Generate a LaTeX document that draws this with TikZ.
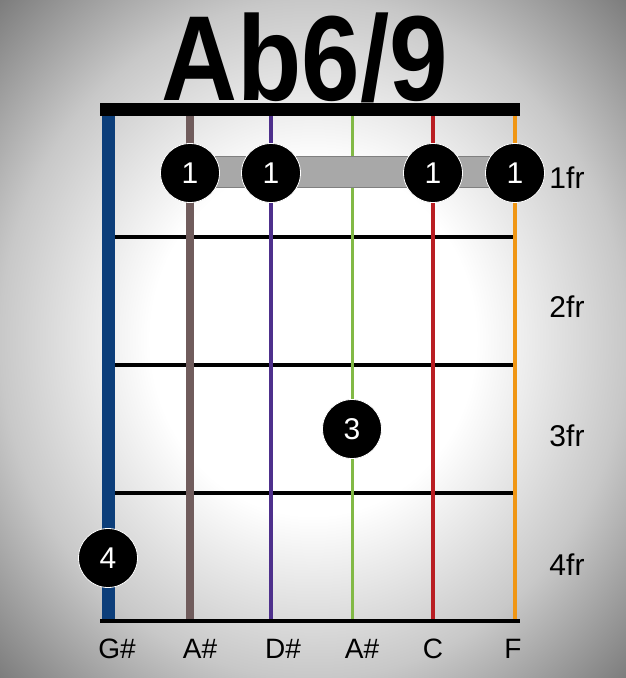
\documentclass[tikz,border=0pt]{standalone}
\usepackage{fontspec}
\setmainfont{Liberation Sans}
\usetikzlibrary{positioning}
\definecolor{strG}{RGB}{12,62,122}
\definecolor{strA}{RGB}{112,92,92}
\definecolor{strD}{RGB}{78,48,140}
\definecolor{strAh}{RGB}{130,185,70}
\definecolor{strC}{RGB}{185,30,35}
\definecolor{strF}{RGB}{240,150,20}
\definecolor{barrefill}{RGB}{168,168,168}
\definecolor{bgmid}{RGB}{200,200,200}
\definecolor{bgdark}{RGB}{120,120,120}
\pgfdeclareradialshading{chartbg}{\pgfpoint{0bp}{0bp}}{color(0bp)=(white); color(13bp)=(white); color(25bp)=(bgmid); color(36bp)=(bgdark); color(50bp)=(bgdark)}

\begin{document}
\begin{tikzpicture}[x=1pt, y=-1pt,
  fretline/.style={line width=4pt},
  finger/.style={circle, fill=black, draw=white, line width=0.8pt, minimum size=59pt, inner sep=0pt, text=white, font=\fontsize{30}{30}\selectfont},
  frlbl/.style={font=\fontsize{30}{30}\selectfont, anchor=base},
  notelbl/.style={font=\fontsize{28}{28}\selectfont, anchor=base}
]
% background
\shade[shading=chartbg] (0,0) rectangle (626,678);
\useasboundingbox (0,0) rectangle (626,678);

\node[font=\bfseries\fontsize{121}{121}\selectfont, xscale=0.87, anchor=base] (title) at (305,100) {Ab6/9};

% nut and bottom edge
\fill (100,103) rectangle (520,116);
\coordinate (botl) at (100,621);
\coordinate (botr) at (520,621);
\draw[fretline] (botl) -- (botr);

% frets
\foreach \y/\n in {237/1, 365/2, 493/3} {
  \coordinate (fl\n) at (115,\y);
  \coordinate (fr\n) at (513,\y);
  \draw[fretline] (fl\n) -- (fr\n);
}

% strings
\foreach \x/\w/\c/\n in {108/13/strG/g, 190/8/strA/a, 271/4/strD/d, 352/3/strAh/h, 433/4/strC/c, 515/4/strF/f} {
  \coordinate (top\n) at (\x,116);
  \coordinate (bot\n) at (\x,619);
  \draw[line width=\w pt, color=\c] (top\n) -- (bot\n);
}

% barre
\fill[barrefill, draw=gray] (190,156) rectangle (515,187);

% fingers
\node[finger] (fa) at (190,173) {1};
\node[finger] (fd) at (271,173) {1};
\node[finger] (fc) at (433,173) {1};
\node[finger] (ff) at (515,173) {1};
\node[finger] (fh) at (352,429) {3};
\node[finger] (fg) at (108,558) {4};

% fret labels
\node[frlbl] (fr1) at (567,188) {1fr};
\node[frlbl] (fr2) at (567,317) {2fr};
\node[frlbl] (fr3) at (567,446) {3fr};
\node[frlbl] (fr4) at (567,575) {4fr};

% note names
\node[notelbl] (ng) at (117,658) {G\#};
\node[notelbl] (na) at (200,658) {A\#};
\node[notelbl] (nd) at (283,658) {D\#};
\node[notelbl] (nh) at (362,658) {A\#};
\node[notelbl] (nc) at (433,658) {C};
\node[notelbl] (nf) at (513,658) {F};
\end{tikzpicture}
\end{document}
